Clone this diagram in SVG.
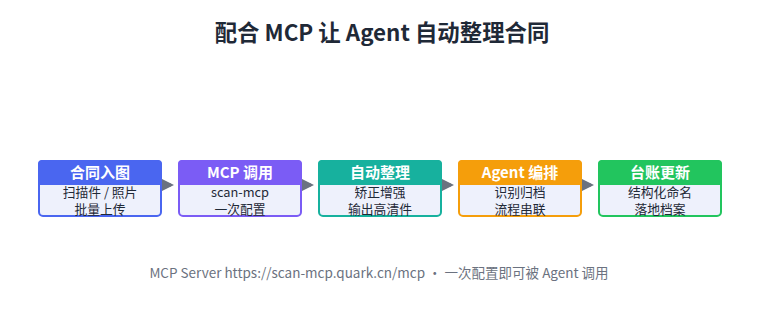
<svg xmlns="http://www.w3.org/2000/svg" width="758" height="334" viewBox="0 0 758 334">
<defs>
<style>
.title{font-family:"Noto Sans CJK SC","Noto Sans",sans-serif;font-size:22.4px;font-weight:700;fill:#1f2937;text-anchor:middle}
.hd{font-family:"Noto Sans CJK SC","Noto Sans",sans-serif;font-size:15px;font-weight:700;fill:#ffffff;text-anchor:middle}
.bd{font-family:"Noto Sans CJK SC","Noto Sans",sans-serif;font-size:12.8px;fill:#1f2937;text-anchor:middle}
.ft{font-family:"Noto Sans CJK SC","Noto Sans",sans-serif;font-size:13.5px;fill:#6b7280;text-anchor:middle}
.body{fill:#eef1fc;stroke-width:2}
.conn{stroke:#6b7280;stroke-width:3;fill:none}
</style>
<marker id="ah" markerWidth="4" markerHeight="4" refX="3" refY="2" orient="auto" markerUnits="strokeWidth">
<path d="M0,0 L4,2 L0,4 z" fill="#6b7280"/>
</marker>
</defs>
<rect width="758" height="334" fill="#ffffff"/>
<text class="title" x="382" y="41">配合 MCP 让 Agent 自动整理合同</text>

<g id="connectors">
<line class="conn" x1="162" y1="185" x2="171" y2="185" marker-end="url(#ah)"/>
<line class="conn" x1="302" y1="185" x2="311" y2="185" marker-end="url(#ah)"/>
<line class="conn" x1="442" y1="185" x2="451" y2="185" marker-end="url(#ah)"/>
<line class="conn" x1="582" y1="185" x2="591" y2="185" marker-end="url(#ah)"/>
</g>

<g id="n1">
<rect class="body" x="39" y="161" width="122" height="55" rx="4" stroke="#4a66f0"/>
<path d="M38,185 V164 a4,4 0 0 1 4,-4 H158 a4,4 0 0 1 4,4 V185 z" fill="#4a66f0"/>
<text class="hd" x="100" y="178">合同入图</text>
<text class="bd" x="100" y="197">扫描件 / 照片</text>
<text class="bd" x="100" y="214">批量上传</text>
</g>
<g id="n2">
<rect class="body" x="179" y="161" width="122" height="55" rx="4" stroke="#7b5cf5"/>
<path d="M178,185 V164 a4,4 0 0 1 4,-4 H298 a4,4 0 0 1 4,4 V185 z" fill="#7b5cf5"/>
<text class="hd" x="240" y="178">MCP 调用</text>
<text class="bd" x="240" y="197">scan-mcp</text>
<text class="bd" x="240" y="214">一次配置</text>
</g>
<g id="n3">
<rect class="body" x="319" y="161" width="122" height="55" rx="4" stroke="#17b19e"/>
<path d="M318,185 V164 a4,4 0 0 1 4,-4 H438 a4,4 0 0 1 4,4 V185 z" fill="#17b19e"/>
<text class="hd" x="380" y="178">自动整理</text>
<text class="bd" x="380" y="197">矫正增强</text>
<text class="bd" x="380" y="214">输出高清件</text>
</g>
<g id="n4">
<rect class="body" x="459" y="161" width="122" height="55" rx="4" stroke="#f59e0b"/>
<path d="M458,185 V164 a4,4 0 0 1 4,-4 H578 a4,4 0 0 1 4,4 V185 z" fill="#f59e0b"/>
<text class="hd" x="520" y="178">Agent 编排</text>
<text class="bd" x="520" y="197">识别归档</text>
<text class="bd" x="520" y="214">流程串联</text>
</g>
<g id="n5">
<rect class="body" x="599" y="161" width="122" height="55" rx="4" stroke="#22c55e"/>
<path d="M598,185 V164 a4,4 0 0 1 4,-4 H718 a4,4 0 0 1 4,4 V185 z" fill="#22c55e"/>
<text class="hd" x="660" y="178">台账更新</text>
<text class="bd" x="660" y="197">结构化命名</text>
<text class="bd" x="660" y="214">落地档案</text>
</g>

<text class="ft" x="379" y="278">MCP Server https://scan-mcp.quark.cn/mcp · 一次配置即可被 Agent 调用</text>
</svg>
